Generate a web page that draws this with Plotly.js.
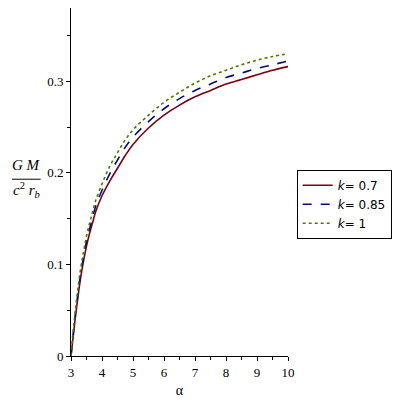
<!DOCTYPE html>
<html>
<head>
<meta charset="utf-8">
<script src="https://cdn.plot.ly/plotly-3.0.1.min.js"></script>
<style>html,body{margin:0;padding:0;background:#fff;}#plot{width:400px;height:400px;}</style>
</head>
<body>
<div id="plot"></div>
<script>
var alpha = [3, 3.05, 3.1, 3.15, 3.2, 3.3, 3.4, 3.5, 3.6, 3.7, 3.8, 4, 4.25, 4.5, 4.75, 5, 5.5, 6, 6.5, 7, 7.5, 8, 8.5, 9, 9.5, 10];
var k07  = [0, 0.015, 0.030, 0.045, 0.058, 0.083, 0.103, 0.120, 0.134, 0.146, 0.158, 0.175, 0.191, 0.205, 0.219, 0.231, 0.249, 0.263, 0.274, 0.283, 0.290, 0.297, 0.302, 0.307, 0.312, 0.316];
var k085 = [0, 0.017, 0.033, 0.048, 0.062, 0.087, 0.107, 0.125, 0.139, 0.152, 0.164, 0.181, 0.199, 0.214, 0.228, 0.239, 0.256, 0.270, 0.281, 0.290, 0.297, 0.304, 0.309, 0.314, 0.318, 0.322];
var k1   = [0, 0.020, 0.037, 0.052, 0.067, 0.093, 0.113, 0.131, 0.145, 0.158, 0.170, 0.188, 0.207, 0.222, 0.236, 0.247, 0.263, 0.277, 0.288, 0.298, 0.306, 0.312, 0.318, 0.323, 0.327, 0.330];
var serif = "Liberation Serif";
var sans = "DejaVu Sans";
var names = ['<i>k</i>= 0.7', '<i>k</i>= 0.85', '<i>k</i>= 1'];
var colors = ['#7A0010', '#00107A', '#4A7A00'];
var dashes = ['solid', 'dash', 'dot'];
var series = [k07, k085, k1];

var traces = series.map(function(s, i){
  return {x: alpha, y: s, type: 'scatter', mode: 'lines', name: names[i],
          line: {color: colors[i], width: 1.6, dash: dashes[i], shape: 'spline'}};
});

var layout = {
  width: 400, height: 400,
  margin: {l: 71, r: 112, t: 8, b: 44},
  paper_bgcolor: '#fff', plot_bgcolor: '#fff',
  font: {family: serif},
  showlegend: true,
  legend: {x: 1.04, y: 0.535, xanchor: 'left', yanchor: 'top',
           bordercolor: '#000', borderwidth: 1, bgcolor: '#fff',
           font: {family: sans, size: 12, color: '#000'},
           tracegroupgap: 0},
  xaxis: {range: [3, 10], showgrid: false, zeroline: false, showline: true,
          linecolor: '#000', linewidth: 1, ticks: 'outside', ticklen: 4, tickcolor: '#000',
          dtick: 1, tick0: 3,
          minor: {dtick: 0.5, ticks: 'outside', ticklen: 3, tickcolor: '#000'},
          tickfont: {family: serif, size: 13, color: '#000'},
          title: {text: 'α', font: {family: serif, size: 14, color: '#000'}, standoff: 6}},
  yaxis: {range: [0, 0.38], showgrid: false, zeroline: false, showline: true,
          linecolor: '#000', linewidth: 1, ticks: 'outside', ticklen: 4, tickcolor: '#000',
          tickvals: [0, 0.1, 0.2, 0.3], ticktext: ['0', '0.1', '0.2', '0.3'],
          minor: {dtick: 0.05, ticks: 'outside', ticklen: 3, tickcolor: '#000'},
          tickfont: {family: serif, size: 13, color: '#000'}},
  annotations: [
    {xref: 'paper', yref: 'paper', x: -0.205, y: 0.548, xanchor: 'center', yanchor: 'middle',
     text: '<i>G M</i>', showarrow: false, font: {family: serif, size: 15, color: '#000'}},
    {xref: 'paper', yref: 'paper', x: -0.205, y: 0.476, xanchor: 'center', yanchor: 'middle',
     text: '<i>c</i><sup>2</sup> <i>r</i><sub><i>b</i></sub>', showarrow: false, font: {family: serif, size: 15, color: '#000'}}
  ],
  shapes: [
    {type: 'line', xref: 'paper', yref: 'paper', x0: -0.272, x1: -0.14, y0: 0.508, y1: 0.508,
     line: {color: '#000', width: 1}}
  ]
};

Plotly.newPlot('plot', traces, layout, {displayModeBar: false, staticPlot: true});
</script>
</body>
</html>
